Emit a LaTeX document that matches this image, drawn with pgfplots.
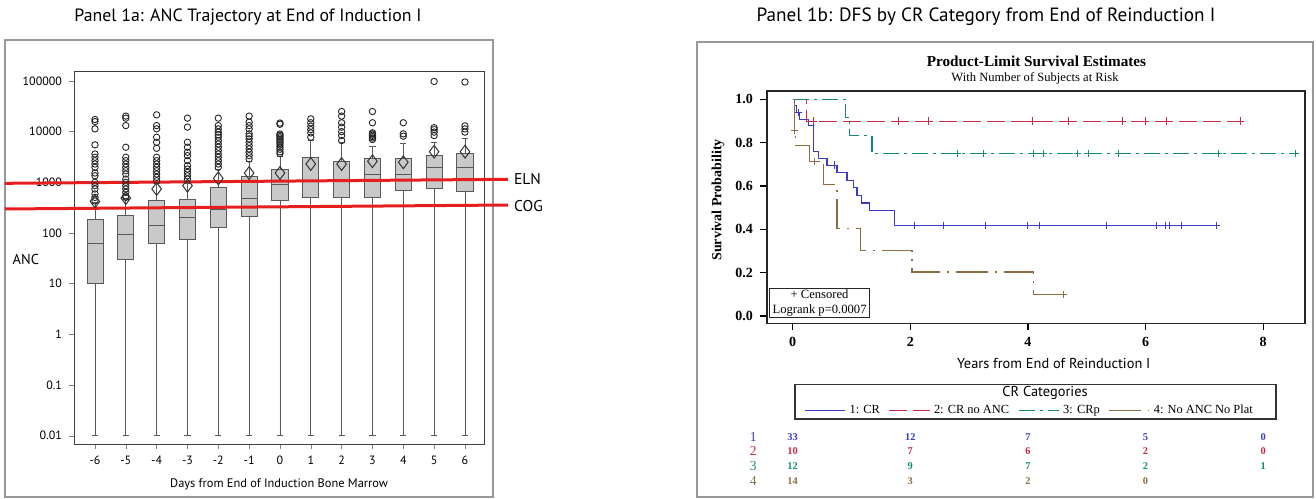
\documentclass[border=0pt]{standalone}
\usepackage{fontspec}
\setmainfont{Liberation Serif}
\newfontfamily\pts{PT Sans}
\usepackage{pgfplots}
\pgfplotsset{compat=1.18}
\usepgfplotslibrary{statistics}

\definecolor{cblue}{RGB}{60,60,195}
\definecolor{cred}{RGB}{200,40,70}
\definecolor{cteal}{RGB}{20,140,120}
\definecolor{cbrown}{RGB}{140,110,70}
\definecolor{refred}{RGB}{230,30,30}

\pgfplotsset{
  bx/.style={solid, draw=black!65, fill=black!21, line width=0.45pt,
    mark=o, mark size=1.6pt, mark options={draw=black!85, fill=none, line width=0.45pt}},
  cens/.style={only marks, mark=+, mark size=1.8pt, forget plot, line width=0.4pt},
}

\begin{document}
\begin{tikzpicture}
\useasboundingbox (0,0) rectangle (658pt,249pt);

% frames and panel titles
\draw[black!40, line width=0.6pt] (2.5pt,0.5pt) rectangle (246.5pt,229pt);
\draw[black!40, line width=0.6pt] (348.5pt,0.5pt) rectangle (656.5pt,228pt);
\node[font=\pts\fontsize{8.9}{11}\selectfont] at (124pt,240.5pt) {Panel 1a: ANC Trajectory at End of Induction I};
\node[font=\pts\fontsize{9.6}{11}\selectfont] at (493pt,240.5pt) {Panel 1b: DFS by CR Category from End of Reinduction I};

% ---------------- Panel 1a: box plots ----------------
\begin{axis}[
  at={(37pt,27pt)}, anchor=south west, scale only axis,
  width=205.5pt, height=186pt,
  ymode=log,
  xmin=-6.68, xmax=6.65, ymin=0.00686, ymax=150600,
  xtick={-6,-5,-4,-3,-2,-1,0,1,2,3,4,5,6},
  xticklabels={-6,-5,-4,-3,-2,-1,0,1,2,3,4,5,6},
  ytick={0.01,0.1,1,10,100,1000,10000,100000},
  yticklabels={0.01,0.1,1,10,100,1000,10000,100000},
  yminorticks=false,
  tick align=outside, xtick pos=bottom, ytick pos=left,
  major tick length=2.5pt,
  ticklabel style={font=\pts\fontsize{6}{7}\selectfont},
  axis line style={black!75, line width=0.5pt},
  clip=false,
  boxplot/draw direction=y,
  boxplot/box extend=0.52,
  boxplot/whisker extend=0.2,
  xlabel={Days from End of Induction Bone Marrow},
  xlabel style={at={(axis description cs:0.499,-0.1075)}, anchor=center, font=\pts\fontsize{6.2}{8}\selectfont},
  ylabel={ANC},
  ylabel style={at={(axis description cs:-0.117,0.497)}, rotate=-90, anchor=center, font=\pts\fontsize{7.2}{8}\selectfont},
]
\addplot[bx, boxplot prepared={draw position=-6, lower whisker=0.01, lower quartile=10, median=62, upper quartile=182, upper whisker=400}]
  table[row sep=\\, y index=0] {y\\17400\\15800\\11350\\5500\\3630\\3130\\2680\\2300\\1980\\1530\\1350\\1000\\860\\740\\590\\505\\430\\};
\addplot[bx, boxplot prepared={draw position=-5, lower whisker=0.01, lower quartile=30, median=92, upper quartile=225, upper whisker=470}]
  table[row sep=\\, y index=0] {y\\20300\\18500\\13200\\4930\\3130\\2680\\2300\\1980\\1700\\1460\\1160\\1000\\860\\740\\634\\543\\505\\};
\addplot[bx, boxplot prepared={draw position=-4, lower whisker=0.01, lower quartile=62, median=141, upper quartile=447, upper whisker=950}]
  table[row sep=\\, y index=0] {y\\21500\\13200\\11350\\7770\\6190\\4700\\3130\\2680\\2300\\1980\\1700\\1460\\1255\\1075\\};
\addplot[bx, boxplot prepared={draw position=-3, lower whisker=0.01, lower quartile=73, median=199, upper quartile=455, upper whisker=950}]
  table[row sep=\\, y index=0] {y\\18500\\12300\\6190\\4930\\3930\\3370\\2680\\2140\\1830\\1570\\1350\\1160\\};
\addplot[bx, boxplot prepared={draw position=-2, lower whisker=0.01, lower quartile=128, median=296, upper quartile=807, upper whisker=1800}]
  table[row sep=\\, y index=0] {y\\18500\\13200\\11350\\9780\\8650\\7770\\6670\\5730\\4930\\4230\\3630\\3130\\2680\\2300\\1980\\};
\addplot[bx, boxplot prepared={draw position=-1, lower whisker=0.01, lower quartile=212, median=482, upper quartile=1290, upper whisker=2600}]
  table[row sep=\\, y index=0] {y\\20300\\15400\\13200\\11350\\9060\\8150\\7200\\6190\\5310\\4570\\3930\\3370\\2890\\};
\addplot[bx, boxplot prepared={draw position=0, lower whisker=0.01, lower quartile=430, median=925, upper quartile=1780, upper whisker=3300}]
  table[row sep=\\, y index=0] {y\\14800\\14000\\9000\\8500\\8000\\7500\\7000\\6500\\6000\\5500\\5000\\4500\\4000\\3700\\};
\addplot[bx, boxplot prepared={draw position=1, lower whisker=0.01, lower quartile=505, median=1050, upper quartile=3130, upper whisker=6670}]
  table[row sep=\\, y index=0] {y\\17900\\15000\\12800\\11000\\9460\\7780\\};
\addplot[bx, boxplot prepared={draw position=2, lower whisker=0.01, lower quartile=505, median=1050, upper quartile=2610, upper whisker=6000}]
  table[row sep=\\, y index=0] {y\\25000\\20300\\15000\\12300\\10000\\8380\\6670\\};
\addplot[bx, boxplot prepared={draw position=3, lower whisker=0.01, lower quartile=505, median=1410, upper quartile=3030, upper whisker=5170}]
  table[row sep=\\, y index=0] {y\\25000\\15000\\9500\\9000\\8500\\8000\\7500\\7000\\};
\addplot[bx, boxplot prepared={draw position=4, lower whisker=0.01, lower quartile=705, median=1410, upper quartile=3030, upper whisker=5730}]
  table[row sep=\\, y index=0] {y\\15000\\9060\\8150\\};
\addplot[bx, boxplot prepared={draw position=5, lower whisker=0.01, lower quartile=771, median=1980, upper quartile=3470, upper whisker=6190}]
  table[row sep=\\, y index=0] {y\\98000\\12000\\11000\\9800\\8380\\};
\addplot[bx, boxplot prepared={draw position=6, lower whisker=0.01, lower quartile=663, median=1950, upper quartile=3800, upper whisker=7500}]
  table[row sep=\\, y index=0] {y\\95500\\13000\\11350\\9800\\};
% means
\addplot[only marks, mark=diamond, mark size=3.2pt, mark options={draw=black!80, fill=none, line width=0.5pt}]
  coordinates {(-6,420) (-5,490) (-4,740) (-3,860) (-2,1200) (-1,1530) (0,1530) (1,2300) (2,2300) (3,2610) (4,2490) (5,4030) (6,4030)};
% ELN and COG reference lines
\addplot[refred, line width=1.5pt] coordinates {(-8.92,957) (7.39,1148)};
\addplot[refred, line width=1.5pt] coordinates {(-8.92,298) (7.39,357)};
\node[anchor=west, inner xsep=0pt, font=\pts\fontsize{7.8}{9}\selectfont] at (axis cs:7.58,1150) {ELN};
\node[anchor=west, inner xsep=0pt, font=\pts\fontsize{7.8}{9}\selectfont] at (axis cs:7.58,345) {COG};
\end{axis}

% ---------------- Panel 1b: Kaplan-Meier ----------------
\node[font=\bfseries\fontsize{7.6}{9}\selectfont] at (518.25pt,218.15pt) {Product-Limit Survival Estimates};
\node[font=\fontsize{6.3}{7}\selectfont] at (517.5pt,209.85pt) {With Number of Subjects at Risk};

\begin{axis}[
  at={(383.5pt,87.35pt)}, anchor=south west, scale only axis,
  width=269pt, height=116.15pt,
  xmin=-0.435, xmax=8.71, ymin=-0.0337, ymax=1.039,
  xtick={0,2,4,6,8}, xticklabels={0,2,4,6,8},
  ytick={0,0.2,0.4,0.6,0.8,1}, yticklabels={0.0,0.2,0.4,0.6,0.8,1.0},
  tick align=outside, xtick pos=bottom, ytick pos=left,
  major tick length=3.5pt,
  tick style={black, line width=0.6pt},
  ticklabel style={font=\bfseries\fontsize{7}{8}\selectfont},
  axis line style={black!85, line width=0.8pt},
  xlabel={Years from End of Reinduction I},
  xlabel style={at={(axis description cs:0.533,-0.172)}, anchor=center, font=\pts\fontsize{7.2}{8}\selectfont},
  ylabel={Survival Probability},
  ylabel style={at={(axis description cs:-0.091,0.531)}, anchor=center, font=\bfseries\fontsize{7}{8}\selectfont},
  legend columns=4,
  legend style={at={(0.49,-0.376)}, anchor=center, draw=none, fill=none,
    font=\fontsize{6.2}{7}\selectfont, /tikz/every even column/.append style={column sep=2.5pt}},
  legend image code/.code={\draw[#1] (0pt,0pt) -- (20pt,0pt);},
]
\addplot[const plot, cblue, line width=0.55pt] coordinates {
  (0,1) (0.03,0.97) (0.07,0.939) (0.12,0.909) (0.27,0.879) (0.35,0.758) (0.44,0.727)
  (0.585,0.697) (0.755,0.662) (0.925,0.627) (1.04,0.592) (1.095,0.557) (1.17,0.522)
  (1.3,0.487) (1.73,0.417) (7.2,0.417)};
\addlegendentry{1: CR}
\addplot[const plot, cred, line width=0.55pt, dash pattern=on 9pt off 3pt] coordinates {
  (0,1) (0.23,0.9) (7.61,0.9)};
\addlegendentry{2: CR no ANC}
\addplot[const plot, cteal, line width=0.55pt, dash pattern=on 8pt off 2.5pt on 1.5pt off 2.5pt] coordinates {
  (0,1) (0.9,0.917) (0.97,0.833) (1.35,0.75) (8.55,0.75)};
\addlegendentry{3: CRp}
\addplot[const plot, cbrown, line width=0.55pt, dash pattern=on 16pt off 3.5pt on 1pt off 3.5pt] coordinates {
  (0,1) (0.03,0.857) (0.05,0.786) (0.28,0.714) (0.53,0.607) (0.755,0.405) (1.15,0.304)
  (2.03,0.203) (4.1,0.101) (4.6,0.101)};
\addlegendentry{4: No ANC No Plat}
% censored observations
\addplot[cens, cblue] coordinates {(0.1,0.939) (0.71,0.697) (2.07,0.417) (2.57,0.417) (3.27,0.417)
  (3.99,0.417) (4.20,0.417) (5.34,0.417) (6.19,0.417) (6.33,0.417) (6.41,0.417) (6.61,0.417) (7.2,0.417)};
\addplot[cens, cred] coordinates {(0.36,0.9) (1.80,0.9) (2.30,0.9) (4.07,0.9) (4.69,0.9) (5.60,0.9)
  (6.0,0.9) (6.35,0.9) (7.61,0.9)};
\addplot[cens, cteal] coordinates {(2.80,0.75) (3.24,0.75) (4.10,0.75) (4.26,0.75) (4.84,0.75)
  (5.02,0.75) (5.54,0.75) (7.24,0.75) (8.55,0.75)};
\addplot[cens, cbrown] coordinates {(0.03,0.857) (0.37,0.714) (4.6,0.101)};
\node[draw=black!85, line width=0.5pt, anchor=south west, align=center, inner xsep=1.5pt, inner ysep=0.8pt,
  fill=white, font=\fontsize{6.3}{7.4}\selectfont] at (rel axis cs:0.004,0.022) {+ Censored\\Logrank p=0.0007};
\end{axis}

% legend frame and title
\draw[black!80, line width=0.6pt] (397.5pt,39.5pt) rectangle (638pt,56.85pt);
\node[font=\pts\fontsize{7.2}{8}\selectfont] at (522.5pt,52.35pt) {CR Categories};

% number at risk
\begin{axis}[
  at={(383.5pt,4.8pt)}, anchor=south west, scale only axis,
  width=269pt, height=29.55pt,
  xmin=-0.435, xmax=8.71, ymin=0.5, ymax=4.5, y dir=reverse,
  hide axis, clip=false,
  risk/.style={draw=none, nodes near coords, point meta=explicit symbolic,
    every node near coord/.append style={anchor=center, text=#1, font=\bfseries\fontsize{5.2}{6}\selectfont}},
]
\addplot[risk=cblue] coordinates {(0,1) [33] (2,1) [12] (4,1) [7] (6,1) [5] (8,1) [0]};
\addplot[risk=cred] coordinates {(0,2) [10] (2,2) [7] (4,2) [6] (6,2) [2] (8,2) [0]};
\addplot[risk=cteal] coordinates {(0,3) [12] (2,3) [9] (4,3) [7] (6,3) [2] (8,3) [1]};
\addplot[risk=cbrown] coordinates {(0,4) [14] (2,4) [3] (4,4) [2] (6,4) [0]};
\node[text=cblue, font=\fontsize{6.8}{7}\selectfont] at (axis cs:-0.67,1) {1};
\node[text=cred, font=\fontsize{6.8}{7}\selectfont] at (axis cs:-0.67,2) {2};
\node[text=cteal, font=\fontsize{6.8}{7}\selectfont] at (axis cs:-0.67,3) {3};
\node[text=cbrown, font=\fontsize{6.8}{7}\selectfont] at (axis cs:-0.67,4) {4};
\end{axis}
\end{tikzpicture}
\end{document}
